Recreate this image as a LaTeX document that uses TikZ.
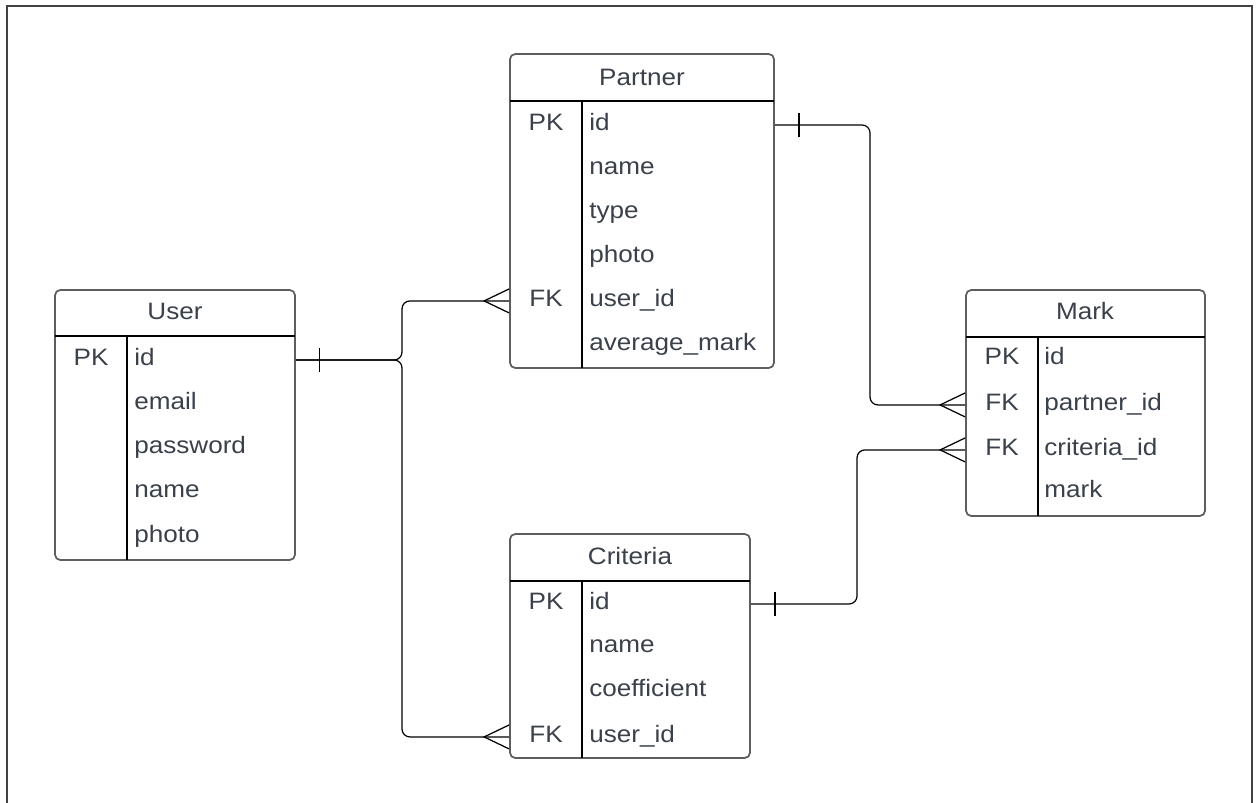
\documentclass[tikz,border=0pt]{standalone}
\usepackage{fontspec}
\setmainfont[FakeStretch=1.1]{Liberation Sans}
\usetikzlibrary{fit}
\definecolor{txtgray}{HTML}{3A414A}
\definecolor{boxgray}{HTML}{5E5E5E}

\begin{document}
\begin{tikzpicture}[x=0.02cm,y=-0.02cm,
	tbl/.style={draw=boxgray,line width=1pt,rounded corners=3pt,inner sep=0pt},
	sep/.style={line width=0.7pt},
	rel/.style={line width=0.7pt,rounded corners=4.5pt},
	lbl/.style={text=txtgray,inner sep=0pt,yshift=-1.1pt,text height=1.5ex,text depth=.25ex,font=\fontsize{13.5}{16}\selectfont},
	fld/.style={lbl,anchor=west}]
	\useasboundingbox (0,0) rectangle (1257,803);
	\draw[boxgray!70!black,line width=1pt] (7,803) -- (7,6) -- (1252,6) -- (1252,803);

	% User
	\node[tbl,fit={(55,290) (295,560)}] (ubox) {};
	\draw[sep] (55,336) -- (295,336);
	\draw[sep] (127,336) -- (127,560);
	\node[lbl] (user) at (175,312) {User};
	\node[lbl] (u-pk) at (91,358) {PK};
	\node[fld] (u-id) at (134,358) {id};
	\node[fld] (u-email) at (134,402) {email};
	\node[fld] (u-password) at (134,446) {password};
	\node[fld] (u-name) at (134,490) {name};
	\node[fld] (u-photo) at (134,535) {photo};

	% Partner
	\node[tbl,fit={(510,54) (774,368)}] (pbox) {};
	\draw[sep] (510,101) -- (774,101);
	\draw[sep] (582,101) -- (582,368);
	\node[lbl] (partner) at (642,78) {Partner};
	\node[lbl] (p-pk) at (546,123) {PK};
	\node[lbl] (p-fk) at (546,299) {FK};
	\node[fld] (p-id) at (589,123) {id};
	\node[fld] (p-name) at (589,167) {name};
	\node[fld] (p-type) at (589,211) {type};
	\node[fld] (p-photo) at (589,255) {photo};
	\node[fld] (p-user) at (589,299) {user\_id};
	\node[fld] (p-avg) at (589,343) {average\_mark};

	% Mark
	\node[tbl,fit={(966,290) (1205,516)}] (mbox) {};
	\draw[sep] (966,337) -- (1205,337);
	\draw[sep] (1038,337) -- (1038,516);
	\node[lbl] (mark) at (1085,312) {Mark};
	\node[lbl] (m-pk) at (1002,357) {PK};
	\node[lbl] (m-fk1) at (1002,403) {FK};
	\node[lbl] (m-fk2) at (1002,448) {FK};
	\node[fld] (m-id) at (1044,357) {id};
	\node[fld] (m-partner) at (1044,403) {partner\_id};
	\node[fld] (m-criteria) at (1044,448) {criteria\_id};
	\node[fld] (m-mark) at (1044,490) {mark};

	% Criteria
	\node[tbl,fit={(510,534) (750,758)}] (cbox) {};
	\draw[sep] (510,581) -- (750,581);
	\draw[sep] (582,581) -- (582,758);
	\node[lbl] (criteria) at (630,557) {Criteria};
	\node[lbl] (c-pk) at (546,602) {PK};
	\node[lbl] (c-fk) at (546,735) {FK};
	\node[fld] (c-id) at (589,602) {id};
	\node[fld] (c-name) at (589,645) {name};
	\node[fld] (c-coef) at (589,689) {coefficient};
	\node[fld] (c-user) at (589,735) {user\_id};

	% relations
	\coordinate (ujoin) at (402,360);
	\coordinate (pjoin) at (870,125);
	\coordinate (cjoin) at (857,604);
	\draw[rel] (u-id -| ubox.east) -- (ujoin) |- (p-user -| pbox.west);
	\draw[rel] (u-id -| ubox.east) -- (ujoin) |- (c-user -| cbox.west);
	\draw[rel] (p-id -| pbox.east) -- (pjoin) |- (m-partner -| mbox.west);
	\draw[rel] (c-id -| cbox.east) -- (cjoin) |- (m-criteria -| mbox.west);
	% one
	\draw[sep] (u-id -| ubox.east) ++(24,-12) -- ++(0,24);
	\draw[sep] (p-id -| pbox.east) ++(24,-12) -- ++(0,24);
	\draw[sep] (c-id -| cbox.east) ++(24,-12) -- ++(0,24);
	% many
	\draw[sep] (p-user -| pbox.west) ++(0,-12) -- ++(-25,12) -- ++(25,12);
	\draw[sep] (c-user -| cbox.west) ++(0,-12) -- ++(-25,12) -- ++(25,12);
	\draw[sep] (m-partner -| mbox.west) ++(0,-12) -- ++(-25,12) -- ++(25,12);
	\draw[sep] (m-criteria -| mbox.west) ++(0,-12) -- ++(-25,12) -- ++(25,12);
\end{tikzpicture}
\end{document}
